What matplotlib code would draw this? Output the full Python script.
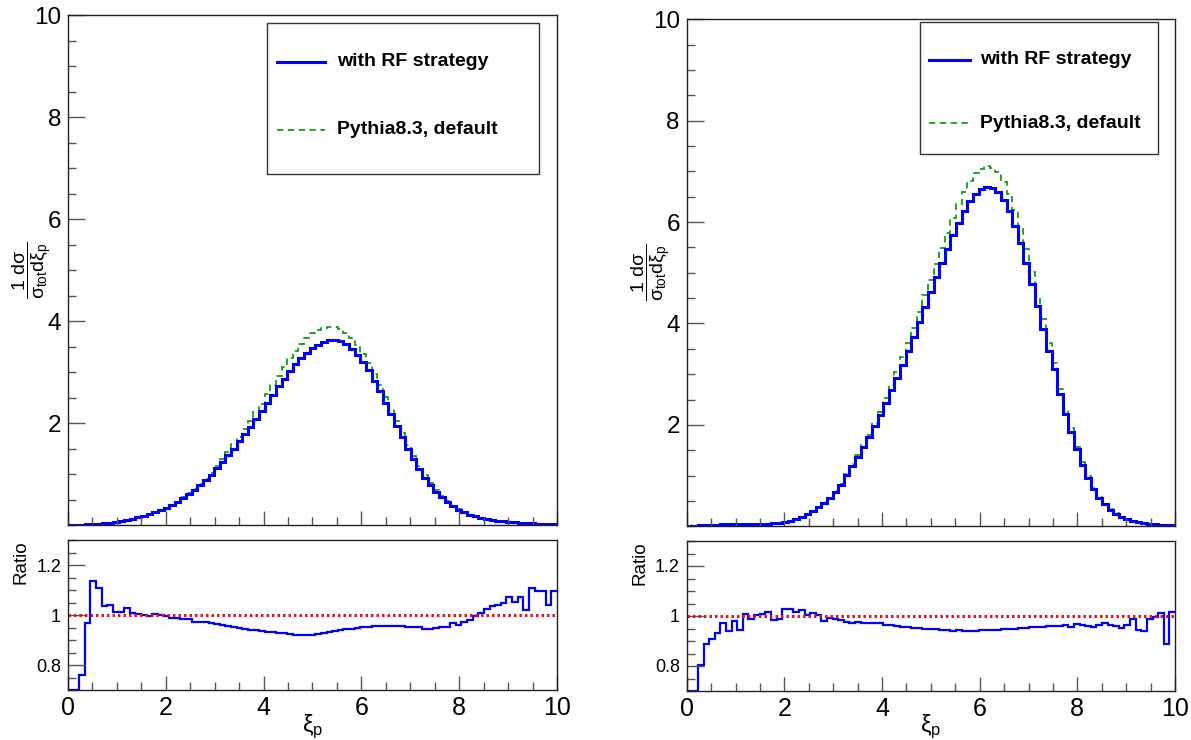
import numpy as np
import matplotlib
matplotlib.use("Agg")
import matplotlib.pyplot as plt
from matplotlib.lines import Line2D
from matplotlib.patches import Rectangle
from matplotlib.ticker import MultipleLocator, FixedLocator, FixedFormatter

plt.rcParams['font.family'] = ['Liberation Sans', 'DejaVu Sans']
plt.rcParams['mathtext.fontset'] = 'custom'
plt.rcParams['mathtext.rm'] = 'Liberation Sans'
plt.rcParams['mathtext.it'] = 'Liberation Sans'
plt.rcParams['mathtext.bf'] = 'Liberation Sans:bold'

# histogram binning (87 bins over the xi_p axis)
edges = np.linspace(0, 10, 88)

# left pad: normalised distributions and ratio RF / default
left_rf = [0.00, 0.00, 0.00, 0.01, 0.01, 0.02, 0.03, 0.04, 0.05, 0.07,
           0.09, 0.12, 0.15, 0.18, 0.21, 0.25, 0.29, 0.33, 0.39, 0.45,
           0.53, 0.61, 0.69, 0.78, 0.88, 0.99, 1.11, 1.24, 1.37, 1.50,
           1.64, 1.78, 1.92, 2.08, 2.23, 2.39, 2.55, 2.72, 2.87, 3.02,
           3.15, 3.27, 3.38, 3.47, 3.53, 3.59, 3.62, 3.63, 3.61, 3.55,
           3.46, 3.34, 3.19, 3.03, 2.83, 2.62, 2.40, 2.17, 1.95, 1.72,
           1.50, 1.29, 1.10, 0.93, 0.78, 0.65, 0.54, 0.45, 0.37, 0.30,
           0.25, 0.20, 0.17, 0.14, 0.12, 0.10, 0.08, 0.07, 0.06, 0.05,
           0.04, 0.03, 0.03, 0.02, 0.02, 0.02, 0.01]
left_py = [0.00, 0.00, 0.00, 0.01, 0.01, 0.02, 0.03, 0.04, 0.05, 0.07,
           0.09, 0.12, 0.15, 0.18, 0.21, 0.25, 0.29, 0.33, 0.40, 0.46,
           0.54, 0.62, 0.71, 0.80, 0.91, 1.02, 1.15, 1.29, 1.43, 1.58,
           1.73, 1.88, 2.04, 2.22, 2.38, 2.56, 2.74, 2.93, 3.10, 3.27,
           3.42, 3.55, 3.67, 3.76, 3.82, 3.87, 3.88, 3.88, 3.84, 3.76,
           3.66, 3.52, 3.35, 3.18, 2.96, 2.74, 2.51, 2.27, 2.04, 1.80,
           1.57, 1.36, 1.16, 0.98, 0.83, 0.68, 0.57, 0.47, 0.38, 0.31,
           0.26, 0.20, 0.17, 0.14, 0.12, 0.10, 0.08, 0.07, 0.06, 0.05,
           0.04, 0.03, 0.03, 0.02, 0.02, 0.02, 0.01]
left_ratio = [0.45, 0.62, 0.761, 0.967, 1.136, 1.110, 1.036, 1.042, 1.013, 1.013,
              1.029, 1.007, 1.003, 1.000, 0.996, 1.003, 1.000, 0.996, 0.987, 0.989,
              0.983, 0.984, 0.973, 0.973, 0.971, 0.967, 0.964, 0.960, 0.958, 0.952,
              0.950, 0.946, 0.942, 0.939, 0.936, 0.932, 0.931, 0.928, 0.927, 0.924,
              0.922, 0.920, 0.920, 0.922, 0.925, 0.928, 0.932, 0.936, 0.940, 0.943,
              0.946, 0.949, 0.951, 0.953, 0.955, 0.956, 0.956, 0.956, 0.955, 0.955,
              0.954, 0.952, 0.952, 0.945, 0.944, 0.950, 0.951, 0.952, 0.968, 0.960,
              0.971, 0.981, 0.995, 1.008, 1.025, 1.036, 1.041, 1.048, 1.072, 1.054,
              1.072, 1.019, 1.107, 1.097, 1.097, 1.041, 1.097]

# right pad
right_rf = [0.00, 0.01, 0.02, 0.03, 0.03, 0.03, 0.04, 0.04, 0.04, 0.04,
            0.04, 0.04, 0.04, 0.05, 0.05, 0.06, 0.07, 0.09, 0.11, 0.15,
            0.19, 0.25, 0.31, 0.38, 0.46, 0.56, 0.68, 0.82, 1.02, 1.19,
            1.37, 1.56, 1.76, 1.97, 2.20, 2.44, 2.68, 2.93, 3.19, 3.46,
            3.74, 4.03, 4.33, 4.62, 4.91, 5.19, 5.47, 5.74, 5.99, 6.22,
            6.41, 6.55, 6.65, 6.70, 6.68, 6.60, 6.44, 6.22, 5.93, 5.58,
            5.20, 4.78, 4.35, 3.90, 3.46, 3.10, 2.61, 2.22, 1.86, 1.52,
            1.21, 0.95, 0.73, 0.56, 0.43, 0.33, 0.25, 0.19, 0.14, 0.11,
            0.08, 0.06, 0.05, 0.04, 0.03, 0.02, 0.02]
right_py = [0.00, 0.02, 0.02, 0.03, 0.03, 0.03, 0.04, 0.04, 0.04, 0.04,
            0.04, 0.04, 0.04, 0.05, 0.05, 0.06, 0.07, 0.09, 0.11, 0.15,
            0.19, 0.25, 0.31, 0.38, 0.47, 0.56, 0.69, 0.83, 1.04, 1.23,
            1.40, 1.60, 1.81, 2.03, 2.26, 2.53, 2.78, 3.05, 3.33, 3.62,
            3.92, 4.23, 4.56, 4.86, 5.18, 5.49, 5.79, 6.09, 6.35, 6.60,
            6.82, 6.96, 7.05, 7.10, 7.07, 6.98, 6.80, 6.55, 6.24, 5.86,
            5.46, 5.01, 4.55, 4.08, 3.61, 3.23, 2.71, 2.31, 1.94, 1.57,
            1.26, 0.99, 0.76, 0.58, 0.44, 0.34, 0.26, 0.20, 0.15, 0.11,
            0.08, 0.06, 0.05, 0.04, 0.03, 0.02, 0.02]
right_ratio = [0.40, 0.55, 0.804, 0.890, 0.908, 0.932, 0.971, 0.940, 0.980, 0.945,
               1.008, 0.988, 1.004, 1.009, 1.016, 0.985, 0.987, 1.028, 1.028, 1.015,
               1.025, 1.004, 1.012, 1.004, 0.982, 0.993, 0.988, 0.986, 0.977, 0.971,
               0.977, 0.974, 0.972, 0.972, 0.972, 0.966, 0.964, 0.961, 0.958, 0.956,
               0.953, 0.952, 0.949, 0.950, 0.948, 0.946, 0.944, 0.942, 0.943, 0.942,
               0.940, 0.941, 0.943, 0.944, 0.945, 0.946, 0.947, 0.949, 0.950, 0.952,
               0.953, 0.955, 0.956, 0.957, 0.959, 0.960, 0.962, 0.963, 0.957, 0.967,
               0.964, 0.961, 0.955, 0.965, 0.971, 0.965, 0.960, 0.953, 0.964, 0.988,
               0.944, 0.940, 0.988, 0.997, 1.013, 0.889, 1.017]

labels = ["with RF strategy", "Pythia8.3, default"]
BLUE = "#0000ff"
GREEN = "#12a012"

W, H = 1191, 740
fig = plt.figure(figsize=(W / 100, H / 100), dpi=100)


def px(x0, y0, x1, y1):
    return [x0 / W, 1 - y1 / H, (x1 - x0) / W, (y1 - y0) / H]


def fx(x, y):
    return x / W, 1 - y / H


def style_axes(ax):
    for s in ax.spines.values():
        s.set_linewidth(1.0)
        s.set_color("#222222")
    ax.tick_params(which="both", direction="in", top=False, right=False,
                   color="#555555", width=1.0)
    ax.tick_params(which="major", length=10)
    ax.tick_params(which="minor", length=5.5)
    ax.set_xlim(0, 10)
    ax.xaxis.set_major_locator(MultipleLocator(2))
    ax.xaxis.set_minor_locator(MultipleLocator(0.5))


def draw_pad(top_box, bot_box, rf, py, ratio, leg):
    ax = fig.add_axes(px(*top_box))
    style_axes(ax)
    ax.stairs(py, edges, color=GREEN, lw=1.3, ls=(0, (3.5, 2.5)), baseline=None)
    ax.stairs(rf, edges, color=BLUE, lw=2.2, baseline=None)
    ax.set_ylim(0, 10)
    ax.yaxis.set_major_locator(FixedLocator([2, 4, 6, 8, 10]))
    ax.yaxis.set_minor_locator(MultipleLocator(0.5))
    ax.tick_params(axis="y", which="major", length=12, labelsize=17.5, pad=5)
    ax.tick_params(axis="x", labelbottom=False)

    rx = fig.add_axes(px(*bot_box))
    style_axes(rx)
    rx.stairs(np.clip(ratio, 0.7, 1.3), edges, color=BLUE, lw=1.6, baseline=None)
    rx.axhline(1.0, color="#ee1111", lw=2.2, ls=(0, (0.8, 1.0)))
    rx.set_ylim(0.7, 1.3)
    rx.yaxis.set_major_locator(FixedLocator([0.8, 1.0, 1.2]))
    rx.yaxis.set_major_formatter(FixedFormatter(["0.8", "1", "1.2"]))
    rx.yaxis.set_minor_locator(MultipleLocator(0.05))
    rx.tick_params(axis="y", which="major", length=12, labelsize=13, pad=5)
    rx.tick_params(axis="x", labelsize=18, pad=4)

    # axis titles
    x0, y0, x1, y1 = top_box
    fig.text(*fx(x0 - 36, (y0 + y1) / 2),
             r"$\dfrac{1\ \mathrm{d}\sigma}{\sigma_{\mathrm{tot}}\mathrm{d}\xi_{\mathrm{p}}}$",
             rotation=90, ha="center", va="center", fontsize=14)
    bx0, by0, bx1, by1 = bot_box
    fig.text(*fx(bx0 - 47, by0), "Ratio", rotation=90, ha="center", va="top", fontsize=13.5)
    fig.text(*fx((bx0 + bx1) / 2, 727), r"$\xi_{\mathrm{p}}$", ha="center", va="center", fontsize=17)

    # legend box
    lx0, ly0, lx1, ly1, line_x0, line_x1, text_x, rows = leg
    fig.add_artist(Rectangle(fx(lx0, ly1), (lx1 - lx0) / W, (ly1 - ly0) / H,
                             transform=fig.transFigure, fill=False,
                             edgecolor="#333333", lw=1.0))
    styles = [dict(color=BLUE, lw=2.2), dict(color=GREEN, lw=1.3, ls=(0, (3.5, 2.5)))]
    for lab, ry, st in zip(labels, rows, styles):
        a, b = fx(line_x0, ry), fx(line_x1, ry)
        fig.add_artist(Line2D([a[0], b[0]], [a[1], b[1]], transform=fig.transFigure, **st))
        fig.text(*fx(text_x, ry), lab, ha="left", va="center", fontsize=14, fontweight="bold")


draw_pad((68, 15, 557, 525), (68, 540, 557, 690), left_rf, left_py, left_ratio,
         (267, 23, 539, 174, 277, 325, 337, (62, 130)))
draw_pad((686.7, 19.3, 1175, 526.3), (686.7, 541, 1175, 691), right_rf, right_py, right_ratio,
         (920, 22, 1158, 154, 929, 970, 980, (60, 123)))

fig.savefig("out.png", dpi=100, facecolor="white")
